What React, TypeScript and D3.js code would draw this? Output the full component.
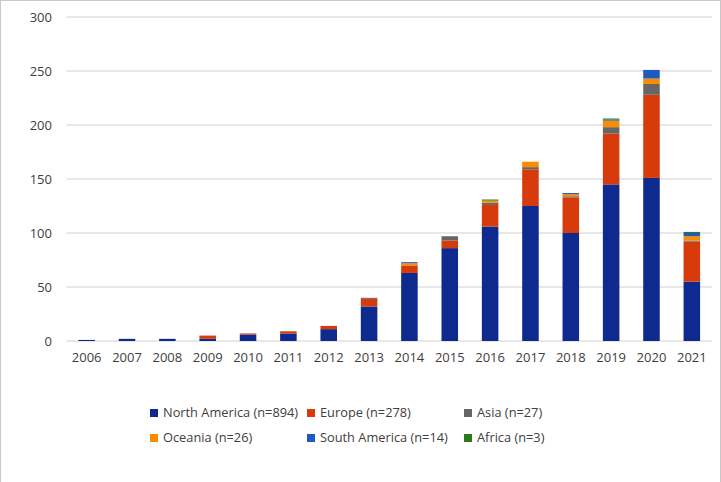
import React from 'react'
import * as d3 from 'd3'

const years = ['2006', '2007', '2008', '2009', '2010', '2011', '2012', '2013', '2014', '2015', '2016', '2017', '2018', '2019', '2020', '2021']
const northAmerica = [1, 2, 2, 2, 6, 7, 11, 32, 63, 86, 106, 125, 100, 145, 151, 55]
const europe = [0, 0, 0, 3, 1, 2, 3, 7, 7, 7, 20, 34, 33, 47, 77, 37]
const asia = [0, 0, 0, 0, 0, 0, 0, 1, 0, 4, 2, 2, 1, 6, 10, 1]
const oceania = [0, 0, 0, 0, 0, 0, 0, 0, 2, 0, 2, 5, 2, 6, 5, 4]
const southAmerica = [0, 0, 0, 0, 0, 0, 0, 0, 1, 0, 0, 0, 1, 1, 8, 3]
const africa = [0, 0, 0, 0, 0, 0, 0, 0, 0, 0, 1, 0, 0, 1, 0, 1]

const seriesNames = ['North America (n=894)', 'Europe (n=278)', 'Asia (n=27)', 'Oceania (n=26)', 'South America (n=14)', 'Africa (n=3)']
const seriesValues = [northAmerica, europe, asia, oceania, southAmerica, africa]
const colors = ['#0f2a8e', '#d83b0b', '#666666', '#fb8c00', '#1f5bbf', '#2a7a1e']
const yTicks = [0, 50, 100, 150, 200, 250, 300]

export default function App() {
  const w = 721
  const h = 482
  const font = '"Open Sans", sans-serif'
  const textColor = '#404040'

  const rows = years.map((y, i) => {
    const r: any = { year: y }
    seriesNames.forEach((s, k) => { r[s] = seriesValues[k][i] })
    return r
  })
  const stacked = d3.stack().keys(seriesNames)(rows)

  const x = d3.scaleBand().domain(years).range([66.5, 712]).paddingInner(0.59).paddingOuter(0.295)
  const y = d3.scaleLinear().domain([0, 300]).range([341, 17])

  return (
    <svg width={w} height={h} style={{ position: 'absolute', left: 0, top: 0, background: 'white' }}>
      {/* chart area border (no bottom edge visible) */}
      <rect x={0.5} y={0.5} width={w - 1} height={h + 5} fill="none" stroke="#c8c8c8" />
      {/* gridlines + y labels */}
      {yTicks.map(t => (
        <g key={t}>
          <line x1={66.5} x2={712} y1={y(t)} y2={y(t)} stroke="#d0d0d0" strokeWidth={1} />
          <text x={52} y={y(t)} dy="0.35em" textAnchor="end" fontFamily={font} fontSize={13} fill={textColor}>{t}</text>
        </g>
      ))}
      {/* bars */}
      {stacked.map((s, k) => (
        <g key={s.key} fill={colors[k]}>
          {s.map((d, i) => d[1] - d[0] > 0 ? (
            <rect key={i} x={x(years[i])} width={x.bandwidth()} y={y(d[1])} height={y(d[0]) - y(d[1])} />
          ) : null)}
        </g>
      ))}
      {/* x labels */}
      {years.map(yr => (
        <text key={yr} x={(x(yr) as number) + x.bandwidth() / 2} y={362} textAnchor="middle" fontFamily={font} fontSize={13} fill={textColor}>{yr}</text>
      ))}
      {/* legend */}
      {seriesNames.map((s, k) => {
        const col = k % 3
        const row = Math.floor(k / 3)
        const lx = [150, 307, 464][col]
        const ly = row === 0 ? 413 : 438
        return (
          <g key={s}>
            <rect x={lx} y={ly - 4} width={8} height={8} fill={colors[k]} />
            <text x={lx + 13} y={ly} dy="0.35em" fontFamily={font} fontSize={12.8} fill={textColor}>{s}</text>
          </g>
        )
      })}
    </svg>
  )
}
